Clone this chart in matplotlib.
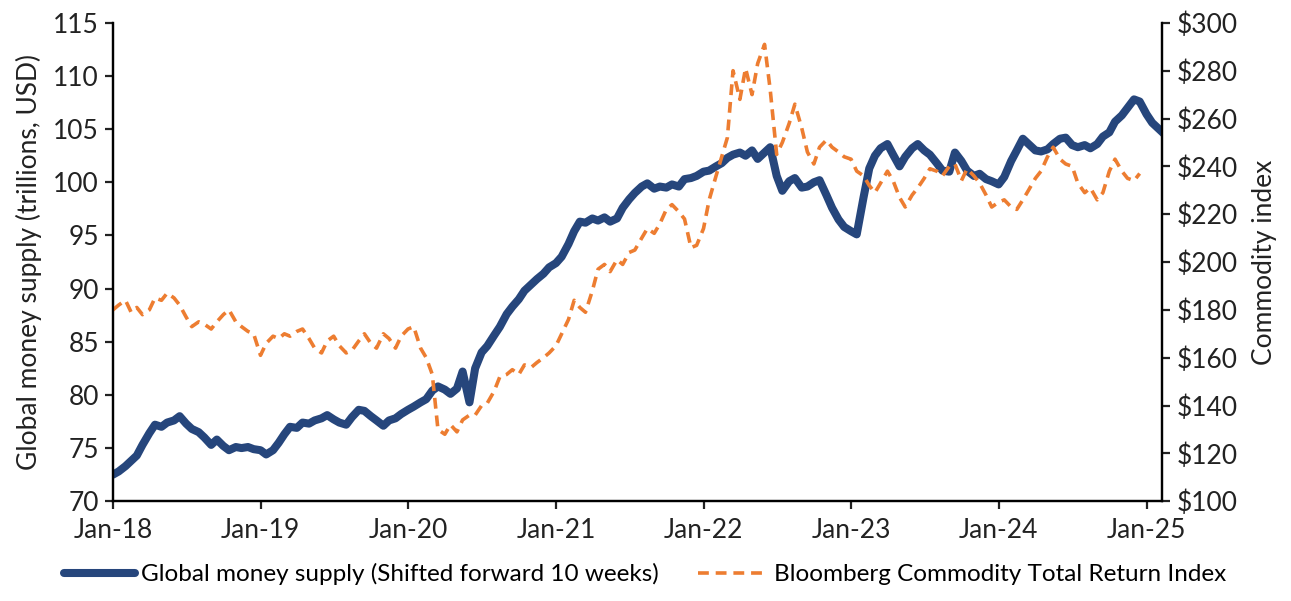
import pandas as pd
import matplotlib
matplotlib.use('Agg')
import matplotlib.pyplot as plt
import matplotlib.dates as mdates
from matplotlib.ticker import FuncFormatter

# semi-monthly readings from Jan-2018
money = [72.5, 72.8, 73.3, 73.8, 74.3, 75.3, 76.4, 77.2, 77.0, 77.4,
         77.6, 78.0, 77.3, 76.8, 76.5, 76.0, 75.3, 75.8, 75.2, 74.8,
         75.1, 75.0, 75.1, 74.9, 74.8, 74.4, 74.8, 75.5, 76.3, 77.0,
         76.9, 77.4, 77.3, 77.6, 77.8, 78.1, 77.7, 77.4, 77.2, 77.9,
         78.6, 78.5, 78.0, 77.6, 77.1, 77.6, 77.8, 78.2, 78.6, 78.9,
         79.3, 79.6, 80.4, 80.8, 80.5, 80.1, 80.6, 82.2, 79.3, 82.5,
         84.0, 84.6, 85.6, 86.4, 87.6, 88.3, 89.0, 89.8, 90.4, 90.9,
         91.4, 92.0, 92.4, 93.0, 94.2, 95.4, 96.3, 96.2, 96.6, 96.4,
         96.7, 96.3, 96.6, 97.6, 98.4, 99.0, 99.6, 99.9, 99.4, 99.6,
         99.5, 99.8, 99.6, 100.3, 100.4, 100.6, 101.0, 101.1, 101.5, 101.8,
         102.3, 102.6, 102.8, 102.5, 103.0, 102.2, 102.8, 103.3, 100.6, 99.2,
         100.1, 100.4, 99.5, 99.6, 100.0, 100.2, 98.8, 97.6, 96.5, 95.8,
         95.4, 95.1, 98.6, 101.3, 102.5, 103.2, 103.6, 102.6, 101.5, 102.4,
         103.2, 103.6, 103.0, 102.6, 101.8, 101.1, 101.0, 102.8, 102.0, 101.1,
         100.6, 100.8, 100.3, 100.1, 99.8, 100.5, 102.0, 103.0, 104.1, 103.6,
         103.0, 102.9, 103.1, 103.6, 104.1, 104.2, 103.5, 103.3, 103.5, 103.2,
         103.6, 104.3, 104.7, 105.7, 106.3, 107.0, 107.8, 107.6, 106.4, 105.6,
         105.0, 104.5]

commodity = [180, 182, 184, 179, 181, 178, 180, 185, 184, 187,
             185, 182, 177, 173, 175, 174, 172, 175, 178, 180,
             175, 173, 171, 170, 161, 166, 169, 168, 170, 169,
             171, 172, 168, 164, 162, 167, 169, 165, 162, 163,
             167, 170, 166, 164, 170, 168, 164, 169, 172, 173,
             164, 160, 153, 130, 128, 132, 129, 134, 136, 136,
             140, 141, 146, 152, 153, 155, 153, 157, 156, 158,
             160, 162, 165, 170, 176, 184, 181, 179, 188, 197,
             199, 196, 201, 199, 204, 205, 210, 214, 212, 216,
             222, 224, 221, 218, 206, 207, 214, 226, 236, 244,
             252, 280, 268, 281, 270, 283, 291, 272, 245, 250,
             258, 266, 256, 246, 241, 248, 251, 248, 246, 244,
             243, 238, 236, 232, 229, 233, 238, 234, 227, 223,
             228, 231, 235, 239, 238, 236, 240, 241, 234, 239,
             236, 233, 228, 223, 225, 226, 223, 222, 226, 230,
             235, 238, 244, 248, 243, 241, 240, 233, 229, 231,
             226, 229, 238, 243, 238, 235, 234, 237]

money_dates = pd.date_range('2018-01-01', periods=len(money), freq='SMS')
comm_dates = pd.date_range('2018-01-01', periods=len(commodity), freq='SMS')

plt.rcParams['font.family'] = ['Lato', 'DejaVu Sans']
fs = 17.5      # legend
tfs = 19       # ticks and axis titles
navy = '#26467c'
orange = '#ed7d31'

fig = plt.figure(figsize=(12.91, 6.01), dpi=100)
ax = fig.add_axes([0.0875, 0.166, 0.8125, 0.796])
ax2 = ax.twinx()

l1, = ax.plot(money_dates, money, color=navy, lw=5.8, solid_capstyle='round',
              label='Global money supply (Shifted forward 10 weeks)')
l2, = ax2.plot(comm_dates, commodity, color=orange, lw=2.6, dashes=(3.0, 1.9),
               label='Bloomberg Commodity Total Return Index')

ax.set_ylim(70, 115)
ax.set_yticks(range(70, 116, 5))
ax2.set_ylim(100, 300)
ax2.set_yticks(range(100, 301, 20))
ax2.yaxis.set_major_formatter(FuncFormatter(lambda v, p: '${:d}'.format(int(v))))

ax.set_xlim(pd.Timestamp('2018-01-01'), pd.Timestamp('2025-02-08'))
ax.xaxis.set_major_locator(mdates.YearLocator())
ax.xaxis.set_major_formatter(mdates.DateFormatter('%b-%y'))

for a in (ax, ax2):
    a.spines['top'].set_visible(False)
    for s in a.spines.values():
        s.set_linewidth(1.6)
    a.tick_params(width=1.6, length=6, colors='#222222', labelsize=tfs)
ax.tick_params(axis='x', pad=6)
ax.tick_params(axis='y', pad=4)
ax2.tick_params(axis='y', pad=5)

ax.set_ylabel('Global money supply (trillions, USD)', fontsize=tfs, color='#222222', labelpad=8)
ax2.set_ylabel('Commodity index', fontsize=tfs, color='#222222', labelpad=10)

fig.legend(handles=[l1, l2], loc='lower center', bbox_to_anchor=(0.5, -0.01), ncol=2,
           frameon=False, fontsize=fs, handlelength=2.9, columnspacing=1.6, handletextpad=0.25)

fig.savefig('out.png', dpi=100)
